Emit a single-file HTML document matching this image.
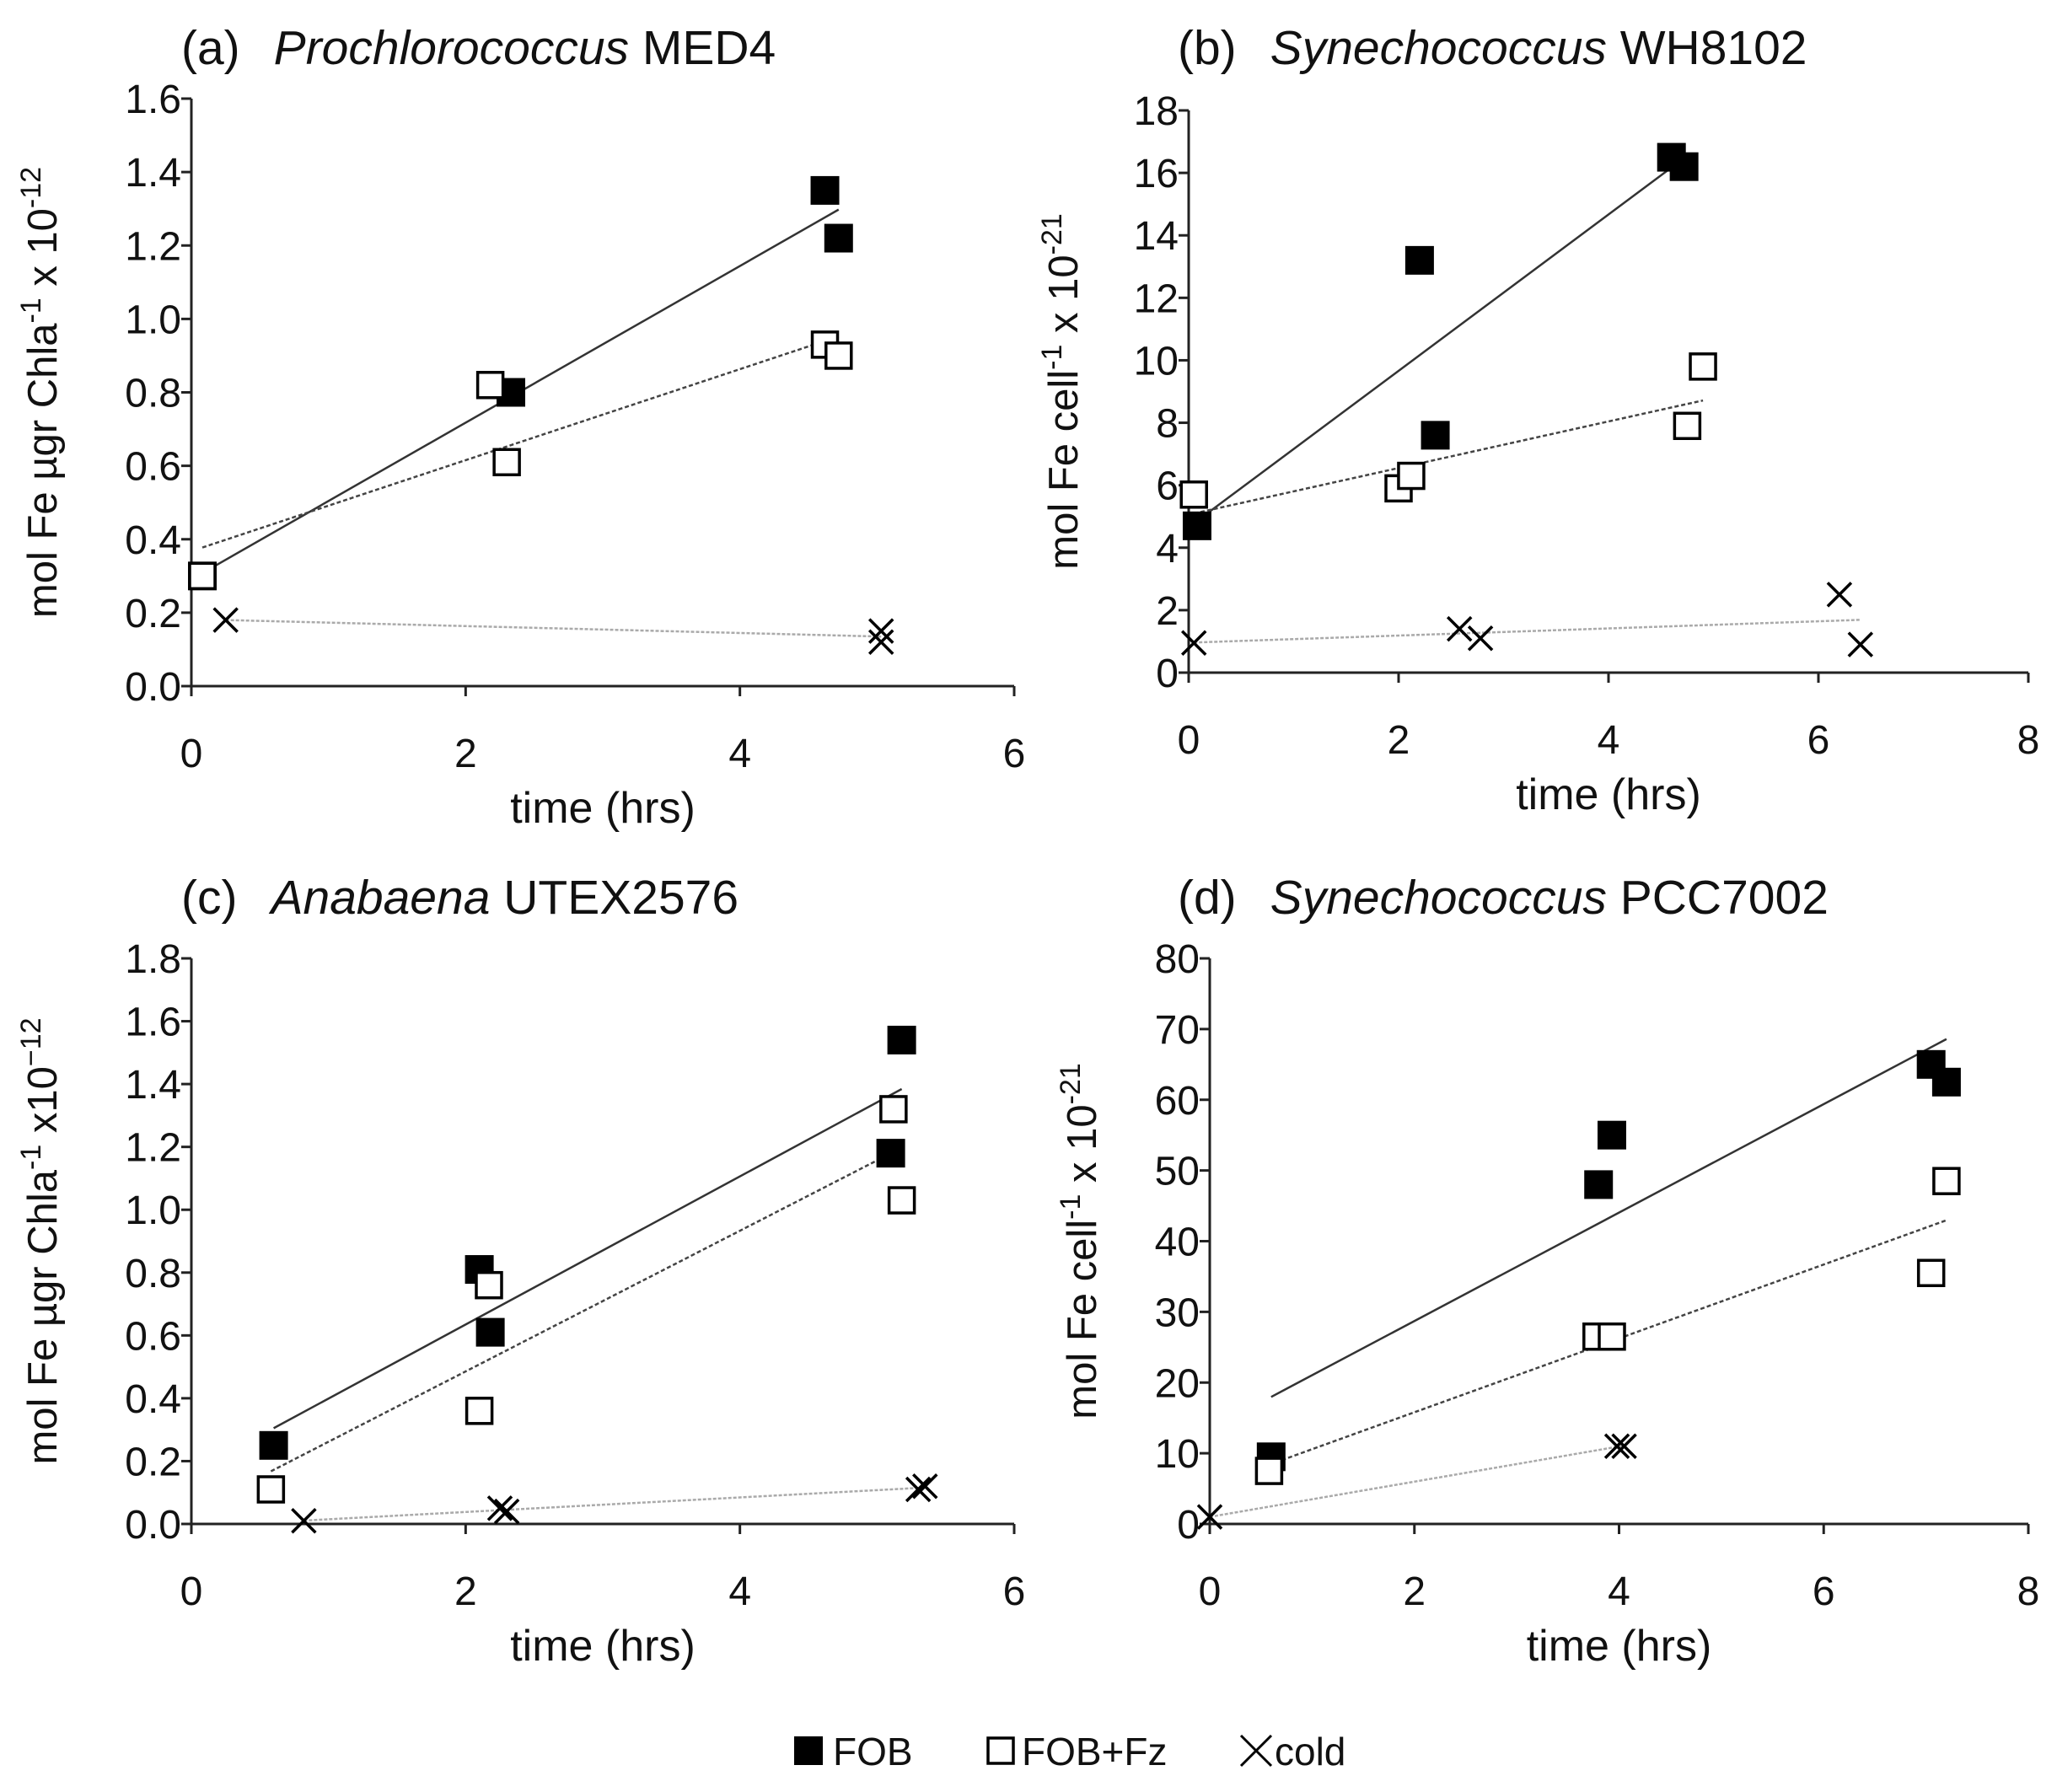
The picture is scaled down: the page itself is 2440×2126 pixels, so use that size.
<!DOCTYPE html>
<html><head><meta charset="utf-8">
<style>
html,body{margin:0;padding:0;background:#fff;}
svg{display:block;font-family:"Liberation Sans",sans-serif;}
</style></head>
<body>
<svg id="fig" width="2440" height="2126" viewBox="0 0 2440 2126" xmlns="http://www.w3.org/2000/svg"></svg>
<script>
// ---- data ----
const aFOBx=[0.08,2.33,4.62,4.72], aFOBy=[0.30,0.80,1.35,1.22];
const aFzx=[0.08,2.18,2.30,4.62,4.72], aFzy=[0.30,0.82,0.61,0.93,0.90];
const aColdx=[0.25,5.03,5.03], aColdy=[0.18,0.15,0.12];
const bFOBx=[0.08,2.20,2.35,4.60,4.72], bFOBy=[4.7,13.2,7.6,16.5,16.2];
const bFzx=[0.05,2.00,2.12,4.75,4.90], bFzy=[5.7,5.9,6.3,7.9,9.8];
const bColdx=[0.05,2.58,2.78,6.20,6.40], bColdy=[0.95,1.4,1.1,2.5,0.9];
const cFOBx=[0.60,2.10,2.18,5.10,5.18], cFOBy=[0.25,0.81,0.61,1.18,1.54];
const cFzx=[0.58,2.10,2.17,5.12,5.18], cFzy=[0.11,0.36,0.76,1.32,1.03];
const cColdx=[0.82,2.25,2.30,5.30,5.35], cColdy=[0.01,0.05,0.04,0.11,0.12];
const dFOBx=[0.60,3.80,3.93,7.05,7.20], dFOBy=[9.5,48,55,65,62.5];
const dFzx=[0.58,3.78,3.93,7.05,7.20], dFzy=[7.5,26.5,26.5,35.5,48.5];
const dColdx=[0.00,3.98,4.05], dColdy=[1,11,11];
const aYTicks=["0.0","0.2","0.4","0.6","0.8","1.0","1.2","1.4","1.6"];
const bYTicks=["0","2","4","6","8","10","12","14","16","18"];
const cYTicks=["0.0","0.2","0.4","0.6","0.8","1.0","1.2","1.4","1.6","1.8"];
const dYTicks=["0","10","20","30","40","50","60","70","80"];
const aXTicks=["0","2","4","6"], bXTicks=["0","2","4","6","8"];

const NS="http://www.w3.org/2000/svg";
const svg=document.getElementById('fig');
function mk(tag,attrs,parent){const e=document.createElementNS(NS,tag);for(const k in attrs)e.setAttribute(k,attrs[k]);(parent||svg).appendChild(e);return e;}
function fit(xs,ys){const n=xs.length;let mx=0,my=0;for(let i=0;i<n;i++){mx+=xs[i];my+=ys[i];}mx/=n;my/=n;let sxy=0,sxx=0;for(let i=0;i<n;i++){sxy+=(xs[i]-mx)*(ys[i]-my);sxx+=(xs[i]-mx)**2;}const m=sxx?sxy/sxx:0;return [m,my-m*mx];}

function panel(p){
  const g=mk('g',{});
  
  
  const X=v=>p.x0+(v-p.xmin)/(p.xmax-p.xmin)*(p.x1-p.x0);
  const Y=v=>p.y0-(v-p.ymin)/(p.ymax-p.ymin)*(p.y0-p.y1);
  const ya=mk('line',{x1:p.x0,y1:p.y0,x2:p.x0,y2:p.y1,stroke:'#222','stroke-width':3},g);
  
  const xa=mk('line',{x1:p.x0,y1:p.y0,x2:p.x1,y2:p.y0,stroke:'#222','stroke-width':3},g);
  
  p.yt.forEach(t=>{const v=parseFloat(t),y=Y(v);
    mk('line',{x1:p.x0-12,y1:y,x2:p.x0,y2:y,stroke:'#222','stroke-width':3},g);
    const tx=mk('text',{x:p.x0-12,y:y+17,'font-size':48,'text-anchor':'end',fill:'#111'},g);tx.textContent=t;
    });
  p.xt.forEach(t=>{const v=parseFloat(t),x=X(v);
    mk('line',{x1:x,y1:p.y0,x2:x,y2:p.y0+12,stroke:'#222','stroke-width':3},g);
    const tx=mk('text',{x:x,y:p.y0+96,'font-size':48,'text-anchor':'middle',fill:'#111'},g);tx.textContent=t;
    });
  const xt=mk('text',{x:(p.x0+p.x1)/2,y:p.y0+162,'font-size':52,'text-anchor':'middle',fill:'#111'},g);xt.textContent='time (hrs)';
  
  const yt=mk('text',{transform:`translate(${p.ytx},${(p.y0+p.y1)/2}) rotate(-90)`,'font-size':49,'text-anchor':'middle',fill:'#111'},g);
  
  p.ylab.forEach(([s,sup])=>{const ts=mk('tspan',sup?{'baseline-shift':'super','font-size':34}:{},yt);ts.textContent=s;});
  const tt=mk('text',{x:215,y:p.ty,'font-size':57,fill:'#111'},g);
  tt.setAttribute('transform',`translate(${p.tdx},0)`);
  
  const t1=mk('tspan',{},tt);t1.textContent=p.tl;
  const t2=mk('tspan',{dx:40,'font-style':'italic'},tt);t2.textContent=p.ti;
  const t3=mk('tspan',{},tt);t3.textContent=' '+p.ts;
  const lines=[[p.fx,p.fy,'#333','none',2.5,'trend-fob'],[p.zx,p.zy,'#444','5,3',2.5,'trend-fob-fz'],[p.cx,p.cy,'#aaa','4,2',2.5,'trend-cold']];
  lines.forEach(([xs,ys,c,d,w,nm])=>{const [m,b]=fit(xs,ys);const lo=Math.min(...xs),hi=Math.max(...xs);
    const l=mk('line',{x1:X(lo),y1:Y(m*lo+b),x2:X(hi),y2:Y(m*hi+b),stroke:c,'stroke-width':w,'stroke-dasharray':d},g);
    });
  const S=34;
  p.fx.forEach((v,i)=>{const r=mk('rect',{x:X(v)-S/2,y:Y(p.fy[i])-S/2,width:S,height:S,fill:'#000'},g);
    });
  p.zx.forEach((v,i)=>{const r=mk('rect',{x:X(v)-S/2+2,y:Y(p.zy[i])-S/2+2,width:S-4,height:S-4,fill:'#fff',stroke:'#000','stroke-width':3.5},g);
    });
  p.cx.forEach((v,i)=>{const x=X(v),y=Y(p.cy[i]),h=14;
    const c=mk('path',{d:`M${x-h},${y-h}L${x+h},${y+h}M${x-h},${y+h}L${x+h},${y-h}`,stroke:'#000','stroke-width':3.5,fill:'none'},g);
    });
}
const sup=s=>[s,true];
panel({id:'a',x0:227,x1:1203,xmin:0,xmax:6,y0:814,y1:117,ymin:0,ymax:1.6,yt:aYTicks,xt:aXTicks,ytx:67,
  ylab:[['mol Fe µgr Chla'],sup('-1'),[' x 10'],sup('-12')],ty:76,tdx:0,tl:'(a)',ti:'Prochlorococcus',ts:'MED4',
  fx:aFOBx,fy:aFOBy,zx:aFzx,zy:aFzy,cx:aColdx,cy:aColdy});
panel({id:'b',x0:1410,x1:2406,xmin:0,xmax:8,y0:798,y1:131,ymin:0,ymax:18,yt:bYTicks,xt:bXTicks,ytx:1278,
  ylab:[['mol Fe  cell'],sup('-1'),[' x 10'],sup('-21')],ty:76,tdx:1182,tl:'(b)',ti:'Synechococcus',ts:'WH8102',
  fx:bFOBx,fy:bFOBy,zx:bFzx,zy:bFzy,cx:bColdx,cy:bColdy});
panel({id:'c',x0:227,x1:1203,xmin:0,xmax:6,y0:1808,y1:1137,ymin:0,ymax:1.8,yt:cYTicks,xt:aXTicks,ytx:67,
  ylab:[['mol Fe µgr Chla'],sup('-1'),[' x10'],sup('−12')],ty:1084,tdx:0,tl:'(c)',ti:'Anabaena',ts:'UTEX2576',
  fx:cFOBx,fy:cFOBy,zx:cFzx,zy:cFzy,cx:cColdx,cy:cColdy});
panel({id:'d',x0:1435,x1:2406,xmin:0,xmax:8,y0:1808,y1:1137,ymin:0,ymax:80,yt:dYTicks,xt:bXTicks,ytx:1300,
  ylab:[['mol Fe  cell'],sup('-1'),[' x 10'],sup('-21')],ty:1084,tdx:1182,tl:'(d)',ti:'Synechococcus',ts:'PCC7002',
  fx:dFOBx,fy:dFOBy,zx:dFzx,zy:dFzy,cx:dColdx,cy:dColdy});

const lg=mk('g',{});


const r1=mk('rect',{x:942,y:2060,width:34,height:34,fill:'#000'},lg);

const l1=mk('text',{x:988,y:2094,'font-size':46,fill:'#111'},lg);l1.textContent='FOB';

const r2=mk('rect',{x:1172,y:2062,width:30,height:30,fill:'#fff',stroke:'#000','stroke-width':3.5},lg);

const l2=mk('text',{x:1212,y:2094,'font-size':46,fill:'#111'},lg);l2.textContent='FOB+Fz';

const r3=mk('path',{d:'M1472,2059L1508,2095M1472,2095L1508,2059',stroke:'#000','stroke-width':3,fill:'none'},lg);

const l3=mk('text',{x:1512,y:2094,'font-size':46,fill:'#111'},lg);l3.textContent='cold';

</script>
</body></html>
